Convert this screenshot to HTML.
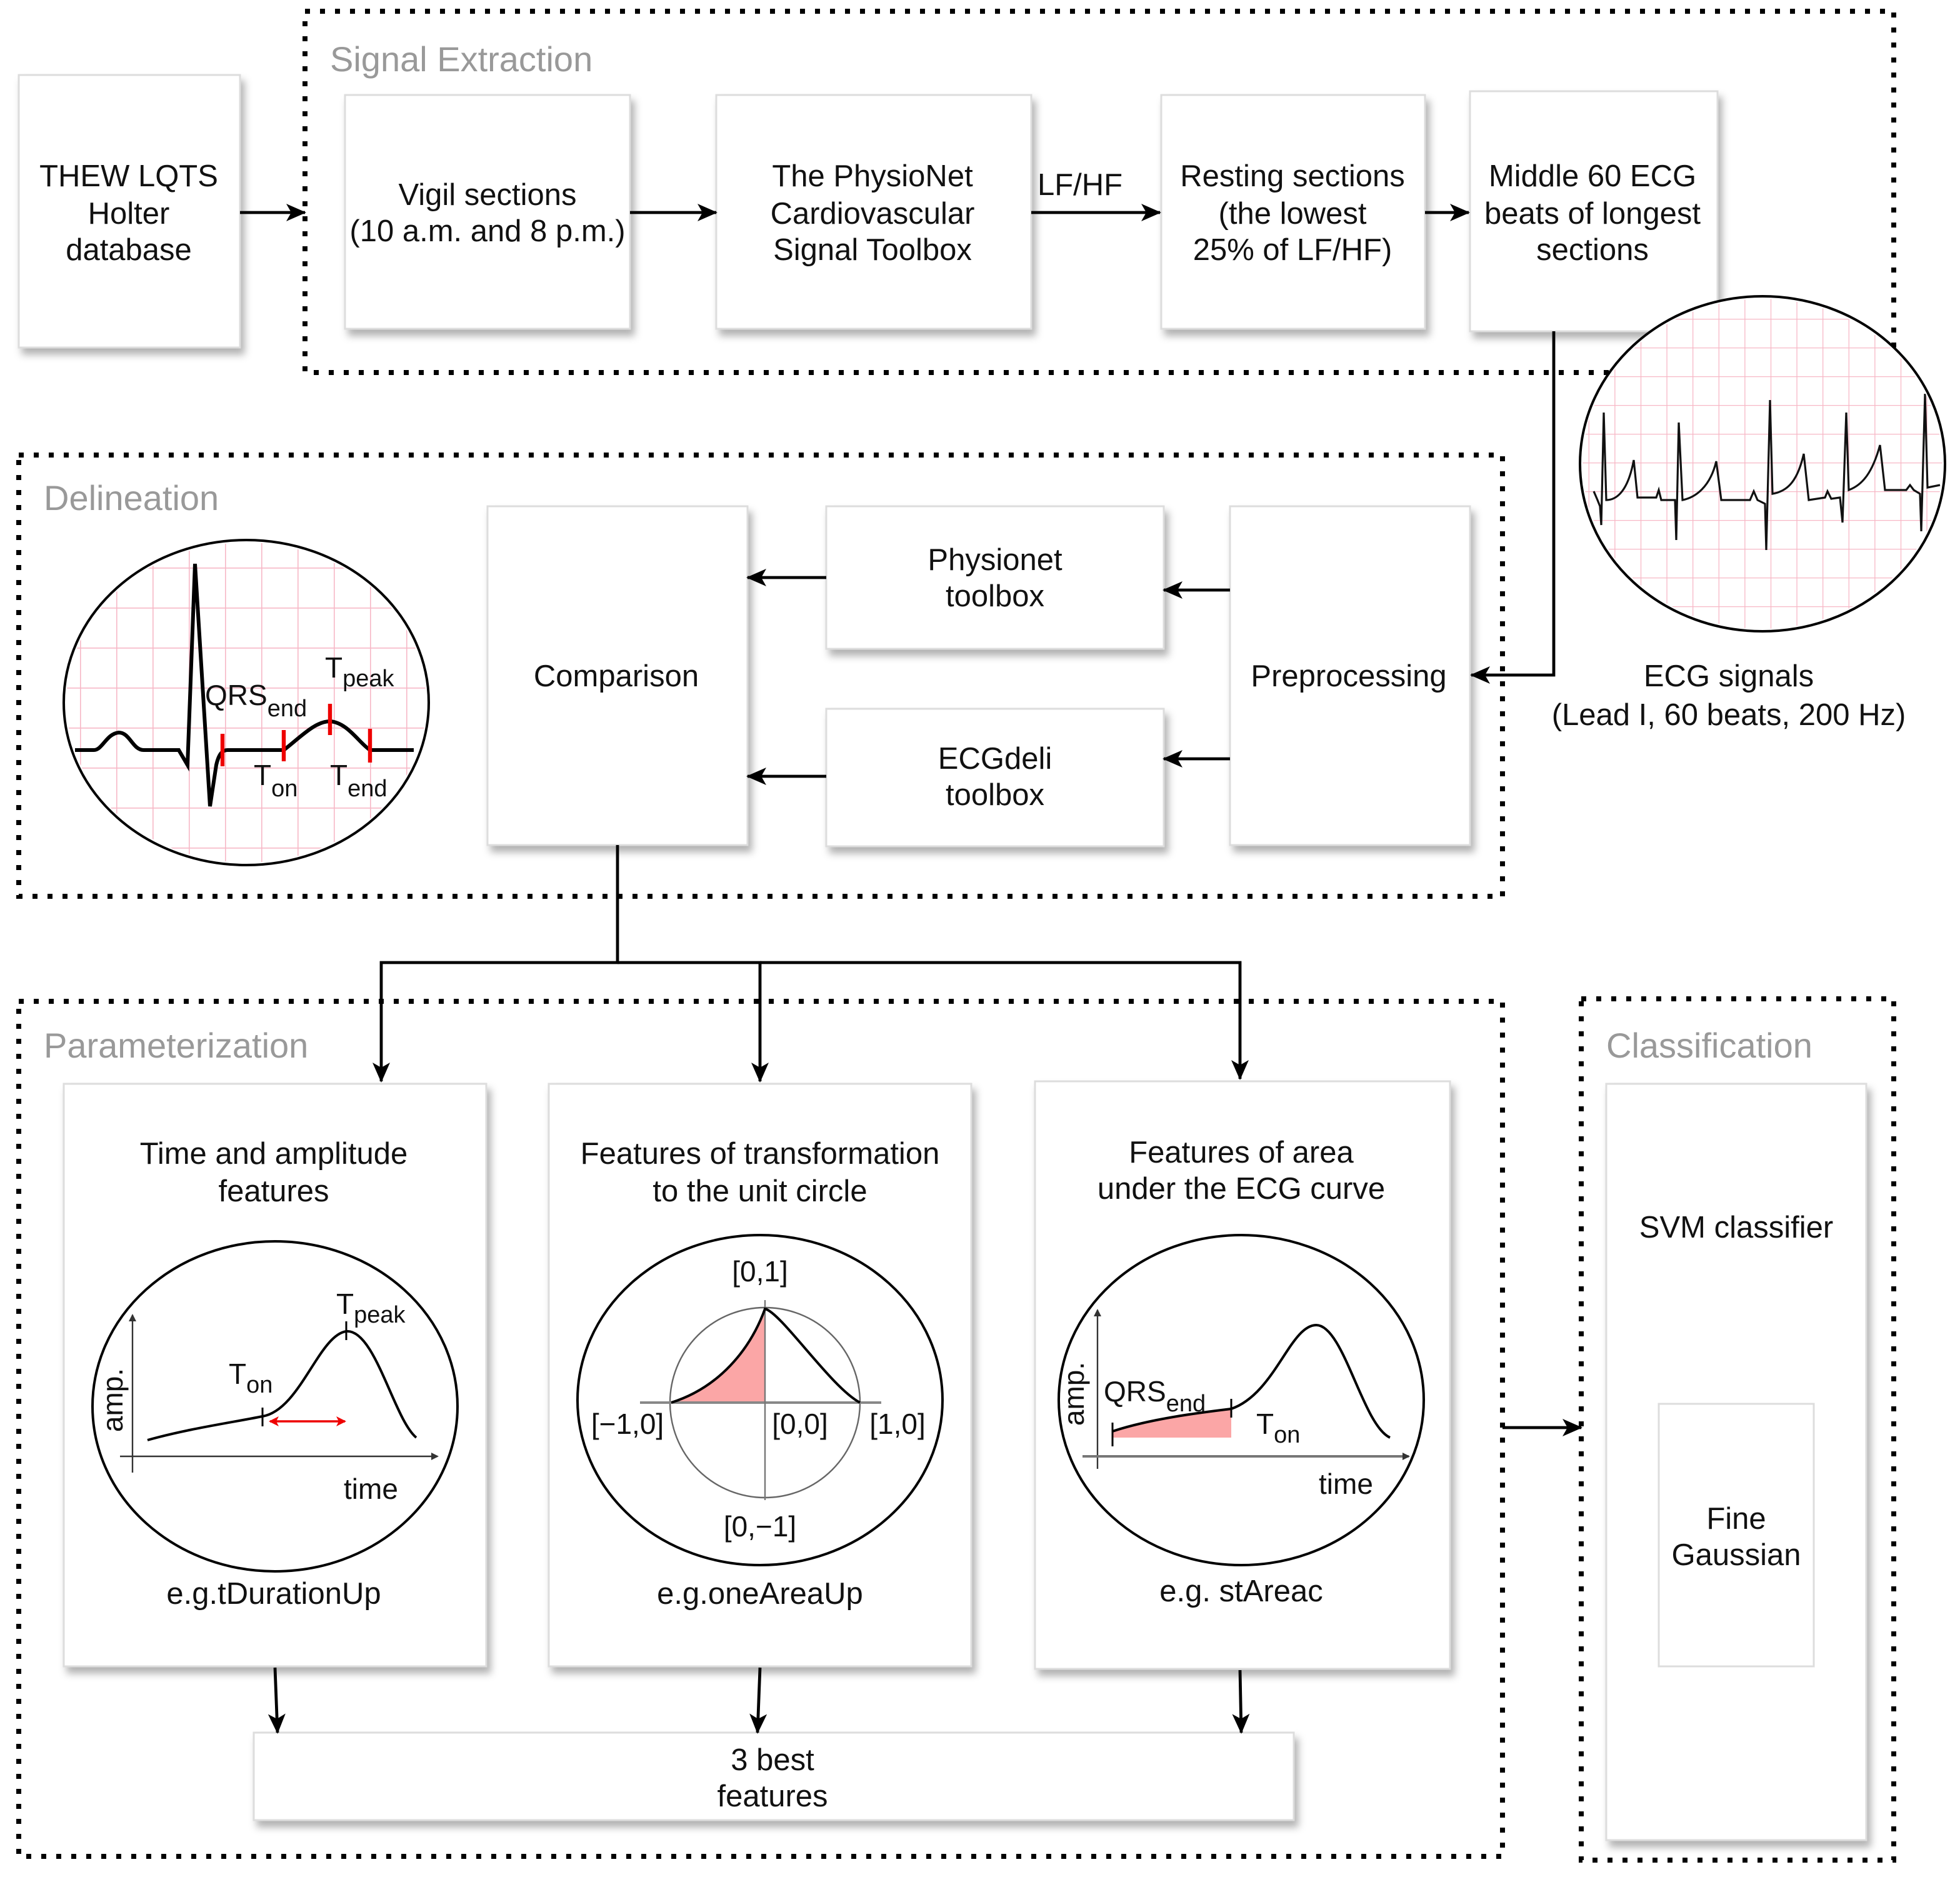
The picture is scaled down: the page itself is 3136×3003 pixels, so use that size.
<!DOCTYPE html>
<html><head><meta charset="utf-8"><style>
html,body{margin:0;padding:0;background:#fff;}
svg{display:block;}
text{font-family:"Liberation Sans",Arial,sans-serif;fill:#111;}
</style></head><body>
<svg width="3136" height="3003" viewBox="0 0 1568 1501.5" xmlns="http://www.w3.org/2000/svg">
<defs>
<filter id="sh" x="-10%" y="-10%" width="130%" height="130%">
<feDropShadow dx="3" dy="5" stdDeviation="3" flood-color="#000" flood-opacity="0.3"/>
</filter>
<marker id="ar" markerWidth="16" markerHeight="14" refX="15" refY="7" orient="auto" markerUnits="userSpaceOnUse">
<path d="M0,0 L16,7 L0,14 L4,7 z" fill="#000"/>
</marker>
<marker id="rr" markerWidth="8" markerHeight="8" refX="7" refY="4" orient="auto-start-reverse" markerUnits="userSpaceOnUse">
<path d="M0,0 L8,4 L0,8 L2,4 z" fill="#e00"/>
</marker>
<marker id="sa" markerWidth="6" markerHeight="6" refX="5" refY="3" orient="auto" markerUnits="userSpaceOnUse">
<path d="M0,0 L6,3 L0,6 z" fill="#333"/>
</marker>
<clipPath id="cl1"><ellipse cx="197" cy="562" rx="144" ry="128"/></clipPath>
<clipPath id="cl2"><ellipse cx="1410" cy="371" rx="144" ry="132"/></clipPath>
<pattern id="g1" x="6" y="6" width="29" height="32" patternUnits="userSpaceOnUse">
<path d="M0,0 H29 M0,0 V32" stroke="#f7b8c6" stroke-width="1.6" fill="none"/>
</pattern>
<pattern id="g2" x="2" y="2" width="20.8" height="23" patternUnits="userSpaceOnUse">
<path d="M0,0 H20.8 M0,0 V23" stroke="#f7b8c6" stroke-width="1.3" fill="none"/>
</pattern>
</defs>

<!-- dotted containers -->
<g fill="none" stroke="#000" stroke-width="4" stroke-dasharray="4 8">
<rect x="244" y="9" width="1271" height="289"/>
<rect x="15" y="364" width="1187" height="353"/>
<rect x="15" y="801" width="1187" height="684"/>
<rect x="1265" y="799" width="250" height="689"/>
</g>
<g font-size="28">
<text x="264" y="57" style="fill:#999">Signal Extraction</text>
<text x="35" y="408" style="fill:#999">Delineation</text>
<text x="35" y="846" style="fill:#999">Parameterization</text>
<text x="1285" y="846" style="fill:#999">Classification</text>
</g>

<!-- boxes -->
<g fill="#fff" stroke="#ddd" stroke-width="1.5" filter="url(#sh)">
<rect x="15" y="60" width="177" height="218"/>
<rect x="276" y="76" width="228" height="187"/>
<rect x="573" y="76" width="252" height="187"/>
<rect x="929" y="76" width="211" height="187"/>
<rect x="1176" y="73" width="198" height="192"/>
<rect x="390" y="405" width="208" height="271"/>
<rect x="661" y="405" width="270" height="114"/>
<rect x="661" y="567" width="270" height="110"/>
<rect x="984" y="405" width="192" height="271"/>
<rect x="51" y="867" width="338" height="466"/>
<rect x="439" y="867" width="338" height="466"/>
<rect x="828" y="865" width="332" height="470"/>
<rect x="203" y="1386" width="832" height="70"/>
<rect x="1285" y="867" width="208" height="605"/>
<rect x="1327" y="1123" width="124" height="210"/>
</g>

<g font-size="24.5" text-anchor="middle">
<text x="103" y="149">THEW LQTS</text><text x="103" y="179">Holter</text><text x="103" y="208">database</text>
<text x="390" y="164">Vigil sections</text><text x="390" y="193">(10 a.m. and 8 p.m.)</text>
<text x="698" y="149">The PhysioNet</text><text x="698" y="179">Cardiovascular</text><text x="698" y="208">Signal Toolbox</text>
<text x="864" y="156">LF/HF</text>
<text x="1034" y="149">Resting sections</text><text x="1034" y="179">(the lowest</text><text x="1034" y="208">25% of LF/HF)</text>
<text x="1274" y="149">Middle 60 ECG</text><text x="1274" y="179">beats of longest</text><text x="1274" y="208">sections</text>
<text x="493" y="549">Comparison</text>
<text x="796" y="456">Physionet</text><text x="796" y="485">toolbox</text>
<text x="796" y="615">ECGdeli</text><text x="796" y="644">toolbox</text>
<text x="1079" y="549">Preprocessing</text>
<text x="1383" y="549">ECG signals</text><text x="1383" y="580">(Lead I, 60 beats, 200 Hz)</text>
<text x="219" y="931">Time and amplitude</text><text x="219" y="961">features</text>
<text x="608" y="931">Features of transformation</text><text x="608" y="961">to the unit circle</text>
<text x="993" y="930">Features of area</text><text x="993" y="959">under the ECG curve</text>
<text x="219" y="1283">e.g.tDurationUp</text>
<text x="608" y="1283">e.g.oneAreaUp</text>
<text x="993" y="1281">e.g. stAreac</text>
<text x="618" y="1416">3 best</text><text x="618" y="1445">features</text>
<text x="1389" y="990">SVM classifier</text>
<text x="1389" y="1223">Fine</text><text x="1389" y="1252">Gaussian</text>
</g>

<!-- connectors -->
<g stroke="#000" stroke-width="2.4" fill="none" marker-end="url(#ar)">
<line x1="192" y1="170" x2="244" y2="170"/>
<line x1="504" y1="170" x2="573" y2="170"/>
<line x1="825" y1="170" x2="928" y2="170"/>
<line x1="1140" y1="170" x2="1175" y2="170"/>
<polyline points="1243,265 1243,540 1177,540"/>
<line x1="661" y1="462" x2="598" y2="462"/>
<line x1="661" y1="621" x2="598" y2="621"/>
<line x1="984" y1="472" x2="931" y2="472"/>
<line x1="984" y1="607" x2="931" y2="607"/>
<polyline points="494,676 494,770 305,770 305,865"/>
<polyline points="494,770 608,770 608,865"/>
<polyline points="608,770 992,770 992,863"/>
<line x1="220" y1="1334" x2="222" y2="1386"/>
<line x1="608" y1="1334" x2="606" y2="1386"/>
<line x1="992" y1="1336" x2="993" y2="1386"/>
<line x1="1202" y1="1142" x2="1265" y2="1142"/>
</g>

<!-- delineation ECG circle -->
<ellipse cx="197" cy="562" rx="146" ry="130" fill="#fff"/>
<rect x="40" y="420" width="320" height="290" fill="url(#g1)" clip-path="url(#cl1)"/>
<path d="M60,600 H75 C82,600 85,587 95,586 C104,586 106,600 115,600 H143 L150,612 L156,451 L168,645 L173,612 C175,603 178,600 182,600 H227 C240,590 252,577 264,577 C278,578 287,594 296,600 H331" fill="none" stroke="#000" stroke-width="3"/>
<g stroke="#e00" stroke-width="3.2">
<line x1="178" y1="587" x2="178" y2="613"/><line x1="227" y1="584" x2="227" y2="609"/>
<line x1="264" y1="563" x2="264" y2="588"/><line x1="296" y1="583" x2="296" y2="610"/>
</g>
<ellipse cx="197" cy="562" rx="146" ry="130" fill="none" stroke="#000" stroke-width="2"/>
<g font-size="23">
<text x="164" y="564">QRS<tspan font-size="19" dy="9">end</tspan></text>
<text x="260" y="542">T<tspan font-size="19" dy="7">peak</tspan></text>
<text x="203" y="628">T<tspan font-size="19" dy="9">on</tspan></text>
<text x="264" y="628">T<tspan font-size="19" dy="9">end</tspan></text>
</g>

<!-- ECG signals circle -->
<ellipse cx="1410" cy="371" rx="146" ry="134" fill="#fff"/>
<rect x="1260" y="235" width="300" height="275" fill="url(#g2)" clip-path="url(#cl2)"/>
<path d="M1275,393 L1278,400 L1280,405 L1281,420 L1283,330 L1285,400 C1292,400 1302,395 1307,368 L1310,398 H1325 L1327,392 L1329,400 L1340,400 L1341,432 L1343,338 L1346,400 C1356,398 1368,390 1373,369 L1377,400 H1400 L1403,393 L1406,400 L1412,403 L1413,440 L1416,320 L1418,395 C1430,393 1438,385 1443,363 L1447,400 L1460,398 L1462,393 L1465,399 L1472,398 L1474,418 L1477,330 L1479,392 C1490,388 1498,378 1504,356 L1508,392 H1525 L1528,388 L1531,392 L1536,395 L1537,425 L1540,315 L1542,390 L1552,388" fill="none" stroke="#111" stroke-width="1.6" clip-path="url(#cl2)"/>
<ellipse cx="1410" cy="371" rx="146" ry="134" fill="none" stroke="#000" stroke-width="2"/>

<!-- param circle 1 -->
<ellipse cx="220" cy="1125" rx="146" ry="132" fill="#fff" stroke="#000" stroke-width="2"/>
<g stroke="#333" stroke-width="1.2" fill="none">
<line x1="106" y1="1178" x2="106" y2="1052" marker-end="url(#sa)"/>
<line x1="96" y1="1165" x2="350" y2="1165" marker-end="url(#sa)"/>
</g>
<path d="M118,1152 C150,1143 185,1138 210,1133 C240,1128 255,1068 277,1065 C300,1063 315,1135 333,1150" fill="none" stroke="#000" stroke-width="2"/>
<line x1="210" y1="1126" x2="210" y2="1141" stroke="#000" stroke-width="1.5"/>
<line x1="277" y1="1057" x2="277" y2="1072" stroke="#000" stroke-width="1.5"/>
<line x1="216" y1="1137" x2="276" y2="1137" stroke="#e00" stroke-width="1.8" marker-start="url(#rr)" marker-end="url(#rr)"/>
<g font-size="23">
<text x="98" y="1120" transform="rotate(-90 98 1120)" text-anchor="middle">amp.</text>
<text x="183" y="1107">T<tspan font-size="19" dy="7">on</tspan></text>
<text x="269" y="1051">T<tspan font-size="19" dy="7">peak</tspan></text>
<text x="275" y="1199">time</text>
</g>

<!-- param circle 2 -->
<ellipse cx="608" cy="1120" rx="146" ry="132" fill="#fff" stroke="#000" stroke-width="2"/>
<ellipse cx="612" cy="1122" rx="76" ry="76" fill="none" stroke="#666" stroke-width="1.2"/>
<path d="M537,1122 C575,1110 600,1080 612,1047 L612,1122 Z" fill="#fba6a6"/>
<line x1="512" y1="1122" x2="705" y2="1122" stroke="#888" stroke-width="2"/>
<line x1="612" y1="1040" x2="612" y2="1200" stroke="#777" stroke-width="1.2"/>
<path d="M537,1122 C575,1110 600,1080 612,1047 C625,1050 665,1110 688,1122" fill="none" stroke="#000" stroke-width="2"/>
<g font-size="23" text-anchor="middle">
<text x="608" y="1025">[0,1]</text>
<text x="502" y="1147">[−1,0]</text>
<text x="640" y="1147">[0,0]</text>
<text x="718" y="1147">[1,0]</text>
<text x="608" y="1229">[0,−1]</text>
</g>

<!-- param circle 3 -->
<ellipse cx="993" cy="1120" rx="146" ry="132" fill="#fff" stroke="#000" stroke-width="2"/>
<path d="M890,1145 C920,1135 960,1130 985,1127 L985,1150 L890,1150 Z" fill="#fba6a6"/>
<g stroke="#333" stroke-width="1.2" fill="none">
<line x1="878" y1="1175" x2="878" y2="1048" marker-end="url(#sa)"/>
<line x1="866" y1="1165" x2="1127" y2="1165" stroke="#777" stroke-width="2" marker-end="url(#sa)"/>
</g>
<path d="M890,1145 C920,1135 960,1130 985,1127 C1020,1115 1032,1060 1053,1060 C1075,1060 1090,1140 1112,1150" fill="none" stroke="#000" stroke-width="2"/>
<line x1="890" y1="1138" x2="890" y2="1157" stroke="#000" stroke-width="1.5"/>
<line x1="985" y1="1119" x2="985" y2="1134" stroke="#000" stroke-width="1.5"/>
<g font-size="23">
<text x="867" y="1115" transform="rotate(-90 867 1115)" text-anchor="middle">amp.</text>
<text x="883" y="1121">QRS<tspan font-size="19" dy="8">end</tspan></text>
<text x="1005" y="1147">T<tspan font-size="19" dy="7">on</tspan></text>
<text x="1055" y="1195">time</text>
</g>
</svg>
</body></html>
